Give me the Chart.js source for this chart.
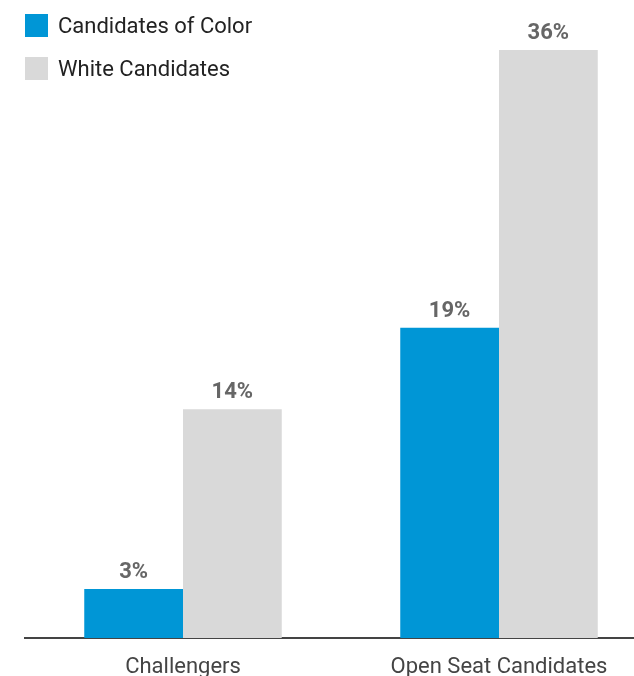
<!DOCTYPE html>
<html>
<head>
<meta charset="utf-8">
<script src="https://cdn.jsdelivr.net/npm/chart.js@4/dist/chart.umd.min.js"></script>
<style>
  html, body { margin: 0; padding: 0; background: #fff; overflow: hidden; }
  #wrap { width: 660px; height: 676px; }
</style>
</head>
<body>
<div id="wrap"><canvas id="chart" width="660" height="676"></canvas></div>
<script>
const categories = ['Challengers', 'Open Seat Candidates'];
const seriesNames = ['Candidates of Color', 'White Candidates'];
const colorCandidates = [3, 19];
const whiteCandidates = [14, 36];
const seriesColors = ['#0096d6', '#d9d9d9'];

const FONT = 'Roboto, "Noto Sans", sans-serif';

// Stacked square legend in the upper-left corner
const cornerLegend = {
  id: 'cornerLegend',
  afterDraw(chart) {
    const ctx = chart.ctx;
    ctx.save();
    ctx.font = '22px ' + FONT;
    ctx.textBaseline = 'middle';
    ctx.textAlign = 'left';
    chart.data.datasets.forEach((ds, i) => {
      const y = 14 + i * 43;
      ctx.fillStyle = ds.backgroundColor;
      ctx.fillRect(25, y, 23, 23);
      ctx.fillStyle = '#222';
      ctx.fillText(ds.label, 58, y + 13);
    });
    ctx.restore();
  }
};

// Percentage labels above each bar
const barValues = {
  id: 'barValues',
  afterDatasetsDraw(chart) {
    const ctx = chart.ctx;
    ctx.save();
    ctx.font = 'bold 22px ' + FONT;
    ctx.fillStyle = '#666';
    ctx.textAlign = 'center';
    ctx.textBaseline = 'alphabetic';
    chart.data.datasets.forEach((ds, di) => {
      chart.getDatasetMeta(di).data.forEach((bar, i) => {
        ctx.fillText(ds.data[i] + '%', bar.x, bar.y - 11);
      });
    });
    ctx.restore();
  }
};

new Chart(document.getElementById('chart'), {
  type: 'bar',
  data: {
    labels: categories,
    datasets: [
      { label: seriesNames[0], data: colorCandidates, backgroundColor: seriesColors[0] },
      { label: seriesNames[1], data: whiteCandidates, backgroundColor: seriesColors[1] }
    ]
  },
  options: {
    responsive: false,
    animation: false,
    layout: { padding: { left: 25, right: 3, top: 50, bottom: 0 } },
    datasets: { bar: { barPercentage: 1, categoryPercentage: 0.625, borderWidth: 0 } },
    plugins: { legend: { display: false }, tooltip: { enabled: false } },
    scales: {
      x: {
        grid: { display: false, drawTicks: false },
        border: { display: true, color: '#444', width: 2 },
        ticks: { color: '#444', font: { family: FONT, size: 22 }, padding: 16 },
        afterFit(scale) { scale.height = 38; }
      },
      y: {
        display: false,
        min: 0,
        max: 36
      }
    }
  },
  plugins: [cornerLegend, barValues]
});
</script>
</body>
</html>
